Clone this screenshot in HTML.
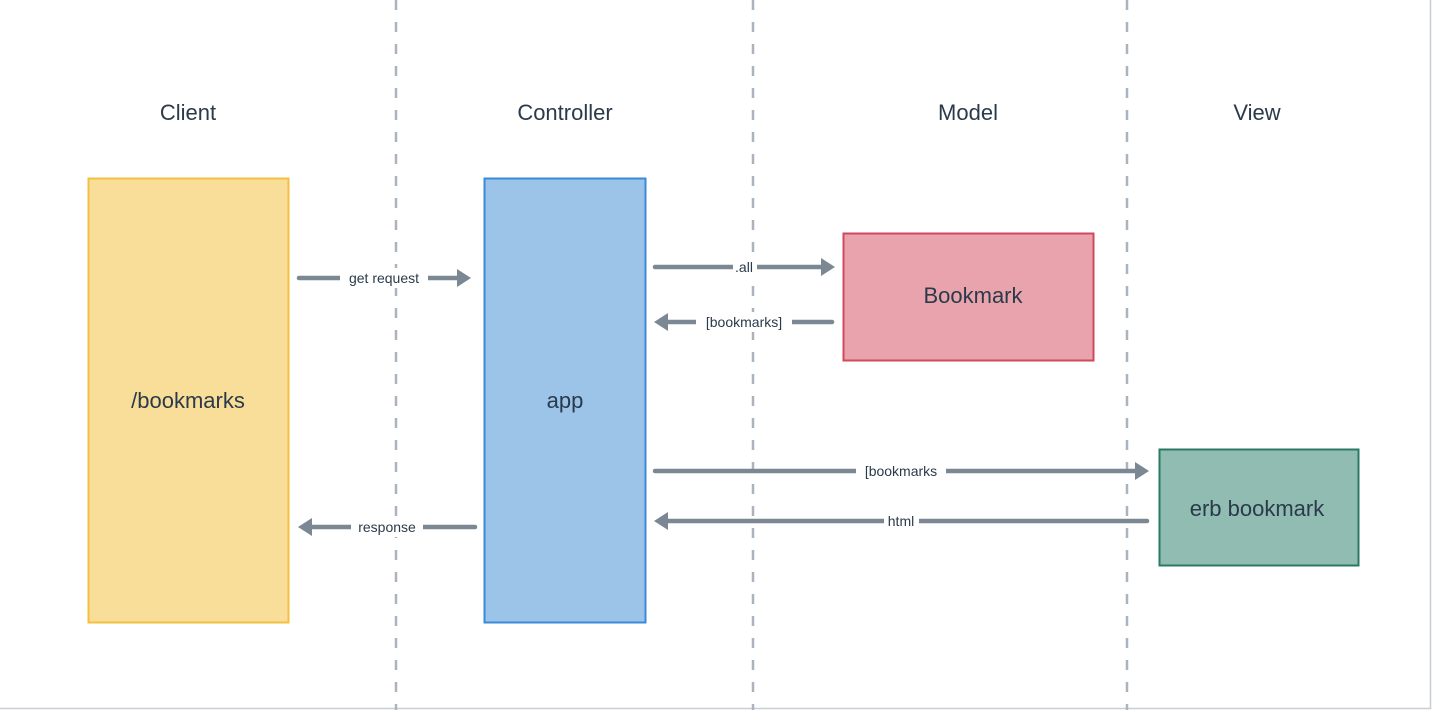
<!DOCTYPE html>
<html><head><meta charset="utf-8"><style>
html,body{margin:0;padding:0;background:#fff;}
svg{display:block;}
text{font-family:"Liberation Sans",sans-serif;fill:#2b3a4a;}
.lbl{font-size:14px;}
.ttl{font-size:22px;}
</style></head><body>
<svg width="1432" height="710" viewBox="0 0 1432 710" xmlns="http://www.w3.org/2000/svg">
<rect x="0" y="0" width="1432" height="710" fill="#fff"/>
<line x1="1430.5" y1="0" x2="1430.5" y2="709" stroke="#c8ced4" stroke-width="1.5"/>
<line x1="0" y1="708.5" x2="1431" y2="708.5" stroke="#c8ced4" stroke-width="1.5"/>
<g stroke="#a9b4bf" stroke-width="2.5" stroke-dasharray="10 12">
<line x1="396" y1="0" x2="396" y2="710"/>
<line x1="753" y1="0" x2="753" y2="710"/>
<line x1="1127" y1="0" x2="1127" y2="710"/>
</g>
<g class="ttl" text-anchor="middle">
<text x="188" y="120">Client</text>
<text x="565" y="120">Controller</text>
<text x="968" y="120">Model</text>
<text x="1257" y="120">View</text>
</g>
<rect x="88.5" y="178.5" width="200" height="444" fill="#f8de98" stroke="#f3c040" stroke-width="2"/>
<text x="188" y="408" class="ttl" text-anchor="middle">/bookmarks</text>
<rect x="484.5" y="178.5" width="161" height="444" fill="#9bc4e8" stroke="#3a8ad8" stroke-width="2"/>
<text x="565" y="408" class="ttl" text-anchor="middle">app</text>
<rect x="843.5" y="233.5" width="250" height="127" fill="#e9a3ac" stroke="#d04a5e" stroke-width="2"/>
<text x="973" y="303" class="ttl" text-anchor="middle">Bookmark</text>
<rect x="1159.5" y="449.5" width="199" height="116" fill="#90bcb2" stroke="#2a7a62" stroke-width="2"/>
<text x="1257" y="516" class="ttl" text-anchor="middle">erb bookmark</text>
<g stroke="#7b8793" stroke-width="4.5" stroke-linecap="round" fill="none">
<line x1="299" y1="278" x2="460" y2="278"/>
<line x1="655" y1="267" x2="824" y2="267"/>
<line x1="665" y1="322" x2="832" y2="322"/>
<line x1="655" y1="471" x2="1138" y2="471"/>
<line x1="665" y1="521" x2="1147" y2="521"/>
<line x1="309" y1="527" x2="475" y2="527"/>
</g>
<g fill="#7b8793">
<polygon points="471,278 457,269 457,287"/>
<polygon points="835,267 821,258 821,276"/>
<polygon points="654,322 668,313 668,331"/>
<polygon points="1149,471 1135,462 1135,480"/>
<polygon points="654,521 668,512 668,530"/>
<polygon points="298,527 312,518 312,536"/>
</g>
<g fill="#fff">
<rect x="340" y="268" width="88" height="20"/>
<rect x="733" y="257" width="24" height="20"/>
<rect x="696" y="312" width="96" height="20"/>
<rect x="856" y="461" width="90" height="20"/>
<rect x="884" y="511" width="35" height="20"/>
<rect x="351" y="517" width="72" height="20"/>
</g>
<g class="lbl" text-anchor="middle">
<text x="384" y="283">get request</text>
<text x="744" y="272">.all</text>
<text x="744" y="327">[bookmarks]</text>
<text x="901" y="476">[bookmarks</text>
<text x="901" y="526">html</text>
<text x="387" y="532">response</text>
</g>
</svg>
</body></html>
